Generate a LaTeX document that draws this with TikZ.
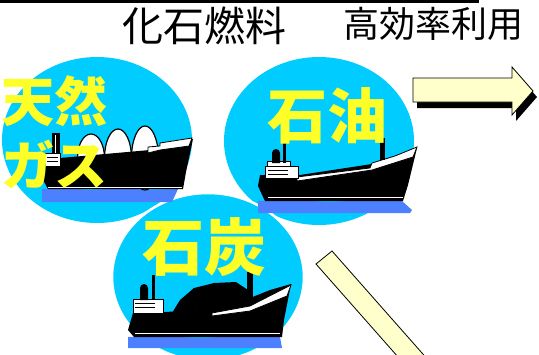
\documentclass[tikz,border=0pt]{standalone}
\usepackage{fontspec}
\newfontfamily\jp{Noto Sans CJK JP}
\definecolor{sky}{RGB}{0,204,255}
\definecolor{sea}{RGB}{77,128,255}
\definecolor{label}{RGB}{255,255,40}
\definecolor{cream}{RGB}{255,255,204}
\tikzset{
  title/.style={font=\jp\fontsize{#1}{#1}\selectfont, text=black, inner sep=0pt},
  fuel/.style={font=\jp\bfseries\fontsize{#1}{#1}\selectfont, text=label, inner sep=0pt},
  hull/.style={fill=black},
  deckhouse/.style={fill=white, draw=black, line width=0.8pt},
  water/.style={fill=sea},
  bubble/.style={fill=sky},
  flowarrow/.style={fill=cream, draw=black, line width=0.8pt, line join=miter},
}
\begin{document}
\begin{tikzpicture}[x=1pt,y=-1pt]
\useasboundingbox (0,0) rectangle (539,354);
\clip (0,0) rectangle (539,354);
\fill[white] (0,0) rectangle (539,354);

% heading rule
\fill[black] (0,0) rectangle (479,2.6);

% titles
\node[title=41, anchor=base] (fossil) at (204,41.5) {化石燃料};
\node[title=36, anchor=base] (efficient) at (433,37.5) {高効率利用};

% fuel bubbles
\fill[bubble] (97,140) ellipse [x radius=95pt, y radius=83pt];
\fill[bubble] (319,141) ellipse [x radius=95pt, y radius=84pt];
\filldraw[bubble, draw=white, line width=2.5pt] (208,277) ellipse [x radius=96pt, y radius=84pt];

% ---- LNG carrier ----
\fill[water] (42,189) -- (60,188) -- (90,190) -- (120,188) -- (150,190) -- (178,189) -- (172,202) -- (42,202) -- cycle;
\foreach \cx/\top in {91/134, 118/129, 145/126}
  \filldraw[fill=white, draw=black, line width=1.2pt] (\cx,158) ellipse [x radius=13.5pt, y radius={(158-\top)*1pt}];
\fill[hull] (42,159) -- (42,178) -- (48,189) -- (183,189) -- (186,172) -- (193,139) -- (176,145) -- (150,150) -- (60,158) -- cycle;
\fill[white] (48,186.5) -- (182,186.5) -- (182,187.5) -- (48,187.5) -- cycle;
\filldraw[deckhouse] (148,147) -- (160,146) -- (160,143) -- (192,138) -- (189,146) -- (160,150) -- (148,153) -- cycle;
\fill[hull] (52,133) rectangle (60,160);
\fill[white] (55,135) rectangle (56,158);
\filldraw[deckhouse] (45,153) rectangle (60,166);
\draw[black, line width=1pt] (47,157) -- (58,157) (47,161) -- (58,161);

% ---- oil tanker ----
\fill[water] (258,201) -- (290,200) -- (330,202) -- (370,200) -- (402,201) -- (412,210) -- (410,213) -- (258,213) -- cycle;
\fill[hull] (260,175) -- (258,186) -- (265,201) -- (403,201) -- (408,185) -- (417,148) -- (400,154) -- (372,164) -- (300,175) -- cycle;
\fill[white] (268,197) rectangle (403,198.2);
\filldraw[deckhouse] (297,177) -- (370,168) -- (372,163) -- (395,156) -- (417,147) -- (413,157) -- (372,170) -- (297,181) -- cycle;
\filldraw[deckhouse] (265,166) rectangle (298,178);
\filldraw[deckhouse] (267,161) rectangle (290,166);
\draw[black, line width=1pt] (268,170) -- (288,170) (268,174) -- (288,174);
\fill[hull] (272,163) -- (272,153) arc[start angle=180, end angle=0, x radius=4pt, y radius=4pt] -- (280,163) -- cycle;
\fill[hull] (283,140) rectangle (286,163);
\fill[hull] (380,138) rectangle (385,160);

% ---- coal carrier ----
\fill[water] (128,337) -- (160,336) -- (200,338) -- (240,336) -- (280,337) -- (282,348) -- (128,348) -- cycle;
\fill[hull] (172,313) -- (180,300) -- (194,288) -- (214,283) -- (236,282) -- (248,290) -- (252,305) -- cycle;
\fill[hull] (133,313) -- (128,330) -- (134,337) -- (282,337) -- (284,320) -- (291,284) -- (270,290) -- (250,298) -- (200,310) -- (165,312) -- cycle;
\fill[white] (135,333) rectangle (280,334.2);
\filldraw[deckhouse] (212,313) -- (250,306) -- (291,285) -- (287,296) -- (250,311) -- (212,316) -- cycle;
\filldraw[deckhouse] (133,299) rectangle (163,313);
\draw[black, line width=1pt] (135,303) -- (155,303) (135,307) -- (155,307);
\fill[hull] (140,300) -- (140,288) arc[start angle=180, end angle=0, x radius=4pt, y radius=4pt] -- (148,300) -- cycle;
\fill[hull] (152,275) rectangle (155,300);
\fill[hull] (247,272) rectangle (253,300);

% fuel labels
\node[fuel=53, anchor=base west] (gas1) at (1,121) {天然};
\node[fuel=53, anchor=base west] (gas2) at (1,185) {ガス};
\node[fuel=60, anchor=base] (oil) at (327,138) {石油};
\node[fuel=62, anchor=base] (coal) at (204,270.5) {石炭};

% block arrow to the right, with drop shadow
\fill[black] (417,84) -- (516,84) -- (516,73) -- (537,97) -- (516,121) -- (516,108) -- (417,108) -- cycle;
\filldraw[flowarrow] (413,78) -- (512,78) -- (512,67) -- (533,91) -- (512,115) -- (512,102) -- (413,102) -- cycle;

% block arrow heading down-right
\filldraw[flowarrow] (316,264) -- (332,251) -- (452,387) -- (436,400) -- cycle;
\end{tikzpicture}
\end{document}
